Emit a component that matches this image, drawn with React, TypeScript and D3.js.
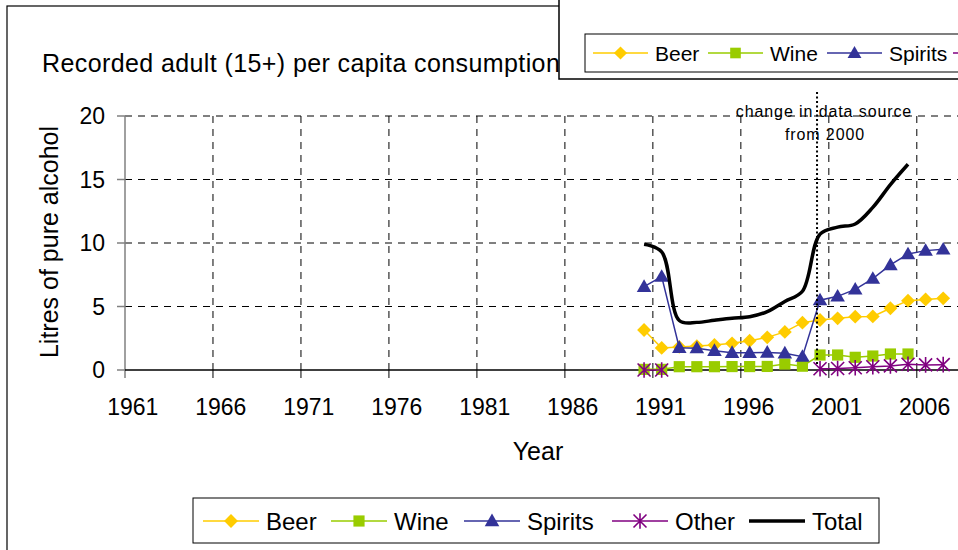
import React from "react";
import * as d3 from "d3";

// category axis runs over every year, data only exists from 1990
const firstYear = 1961;
const lastYear = 2007;
const tickYears = [1961, 1966, 1971, 1976, 1981, 1986, 1991, 1996, 2001, 2006];
const yTicks = [0, 5, 10, 15, 20];

const dataYears = [1990, 1991, 1992, 1993, 1994, 1995, 1996, 1997, 1998, 1999, 2000, 2001, 2002, 2003, 2004, 2005, 2006, 2007];
const beer = [3.15, 1.74, 1.82, 1.88, 1.97, 2.1, 2.3, 2.57, 3.0, 3.73, 3.94, 4.07, 4.2, 4.22, 4.86, 5.46, 5.56, 5.64];
const wine = [0.05, 0.05, 0.26, 0.26, 0.26, 0.27, 0.27, 0.28, 0.47, 0.3, 1.18, 1.18, 1.0, 1.1, 1.26, 1.26, null, null];
const spirits = [6.56, 7.35, 1.75, 1.72, 1.52, 1.36, 1.36, 1.38, 1.32, 1.05, 5.5, 5.8, 6.35, 7.2, 8.27, 9.13, 9.4, 9.5];
const other = [0, 0, null, null, null, null, null, null, null, null, 0.1, 0.12, 0.18, 0.26, 0.32, 0.45, 0.4, 0.42];
const total = [9.9, 9.3, 3.9, 3.75, 3.92, 4.08, 4.2, 4.6, 5.4, 6.2, 10.7, 11.25, 11.5, 12.8, 14.6, 16.2, null, null];

const FONT = "'Liberation Sans', Arial, sans-serif";
const colors: Record<string, string> = {
  Beer: "#FFCC00",
  Wine: "#99CC00",
  Spirits: "#333399",
  Other: "#800080",
  Total: "#000000",
};

const W = 958;
const H = 550;
const plot = { left: 125, right: 952, top: 116, bottom: 370 };

const years = d3.range(firstYear, lastYear + 1);
const x = d3.scaleBand<number>().domain(years).range([plot.left, plot.right]).padding(0);
const cx = (yr: number) => (x(yr) as number) + x.bandwidth() / 2;
const y = d3.scaleLinear().domain([0, 20]).range([plot.bottom, plot.top]);

const asteriskPath = (r: number) =>
  `M${-r},${-r}L${r},${r}M${-r},${r}L${r},${-r}M0,${-r * 1.2}L0,${r * 1.2}`;

function Marker({ name, px, py, scale = 1 }: { name: string; px: number; py: number; scale?: number }) {
  const c = colors[name];
  if (name === "Beer") {
    const d = d3.symbol().type(d3.symbolSquare).size(96 * scale * scale)()!;
    return <path d={d} transform={`translate(${px},${py}) rotate(45)`} fill={c} />;
  }
  if (name === "Wine") {
    const d = d3.symbol().type(d3.symbolSquare).size(125 * scale * scale)()!;
    return <path d={d} transform={`translate(${px},${py})`} fill={c} />;
  }
  if (name === "Spirits") {
    const d = d3.symbol().type(d3.symbolTriangle).size(92 * scale * scale)()!;
    return <path d={d} transform={`translate(${px},${py + 1})`} fill={c} />;
  }
  if (name === "Other") {
    return (
      <path d={asteriskPath(6.5 * scale)} transform={`translate(${px},${py})`} stroke={c} strokeWidth={1.6} fill="none" />
    );
  }
  return null;
}

const seriesData: Record<string, (number | null)[]> = {
  Beer: beer,
  Wine: wine,
  Spirits: spirits,
  Other: other,
  Total: total,
};

function Legend({ x0, y0, items, fontSize, lineLen, markerScale }: {
  x0: number; y0: number; items: { name: string; dx: number; label?: boolean }[]; fontSize: number; lineLen: number; markerScale: number;
}) {
  return (
    <g>
      {items.map((it) => (
        <g key={it.name} transform={`translate(${x0 + it.dx},${y0})`}>
          <line x1={0} x2={lineLen} y1={0} y2={0} stroke={colors[it.name]} strokeWidth={it.name === "Total" ? 3.5 : 1.5} />
          <Marker name={it.name} px={lineLen / 2} py={0} scale={markerScale} />
          {it.label === false ? null : (
            <text x={lineLen + 7} y={0} dy="0.36em" fontSize={fontSize} fontFamily={FONT} fill="#000">
              {it.name}
            </text>
          )}
        </g>
      ))}
    </g>
  );
}

export default function App() {
  const lineGen = d3
    .line<number | null>()
    .defined((d) => d !== null)
    .x((_, i) => cx(dataYears[i]))
    .y((d) => y(d as number));

  const totalGen = d3
    .line<number | null>()
    .defined((d) => d !== null)
    .x((_, i) => cx(dataYears[i]))
    .y((d) => y(d as number))
    .curve(d3.curveCatmullRom.alpha(0.5));

  const gridYears = tickYears.slice(1);
  const dividerX = cx(2000) - 3;

  const bottomItems = [
    { name: "Beer", dx: 0 },
    { name: "Wine", dx: 128 },
    { name: "Spirits", dx: 261 },
    { name: "Other", dx: 409 },
    { name: "Total", dx: 546 },
  ];
  // the top copy runs off the edge; only the start of the "Other" line shows
  const topItems = [
    { name: "Beer", dx: 0 },
    { name: "Wine", dx: 115 },
    { name: "Spirits", dx: 234 },
    { name: "Other", dx: 360, label: false },
  ];

  return (
    <svg width={W} height={H} style={{ position: "absolute", left: 0, top: 0, background: "#fff" }}>
      <rect x={0} y={0} width={W} height={H} fill="#fff" />
      {/* chart border */}
      <rect x={7} y={6} width={W + 20} height={H + 20} fill="none" stroke="#000" strokeWidth={1.2} />

      <text x={42} y={72} fontSize={25} letterSpacing={0.4} fontFamily={FONT} fill="#000">
        Recorded adult (15+) per capita consumption
      </text>

      {/* gridlines */}
      {yTicks.slice(1).map((t) => (
        <line key={t} x1={plot.left} x2={W} y1={y(t)} y2={y(t)} stroke="#000" strokeWidth={1} strokeDasharray="7,6" />
      ))}
      {gridYears.map((yr) => (
        <line key={yr} x1={x(yr)} x2={x(yr)} y1={plot.top} y2={plot.bottom} stroke="#000" strokeWidth={1} strokeDasharray="7,6" />
      ))}

      {/* y axis */}
      <line x1={plot.left} x2={plot.left} y1={plot.top} y2={plot.bottom + 8} stroke="#808080" strokeWidth={1.5} />
      {yTicks.map((t) => (
        <g key={t}>
          <line x1={plot.left - 8} x2={plot.left} y1={y(t)} y2={y(t)} stroke="#808080" strokeWidth={1.5} />
          <text x={105} y={y(t)} dy="0.36em" textAnchor="end" fontSize={23} fontFamily={FONT} fill="#000">
            {t}
          </text>
        </g>
      ))}
      <text
        transform={`translate(58,${(plot.top + plot.bottom) / 2 - 1}) rotate(-90)`}
        textAnchor="middle"
        fontSize={25}
        fontFamily={FONT}
        fill="#000"
      >
        Litres of pure alcohol
      </text>

      {/* x axis */}
      <line x1={plot.left} x2={W} y1={plot.bottom} y2={plot.bottom} stroke="#000" strokeWidth={1.5} />
      {gridYears.map((yr) => (
        <line key={yr} x1={x(yr)} x2={x(yr)} y1={plot.bottom} y2={plot.bottom + 8} stroke="#000" strokeWidth={1} />
      ))}
      {tickYears.map((yr) => (
        <text key={yr} x={cx(yr) - 1} y={415} textAnchor="middle" fontSize={23} fontFamily={FONT} fill="#000">
          {yr}
        </text>
      ))}
      <text x={538} y={460} textAnchor="middle" fontSize={25} fontFamily={FONT} fill="#000">
        Year
      </text>

      {/* series */}
      {["Beer", "Wine", "Spirits", "Other"].map((name) => (
        <g key={name}>
          <path d={lineGen(seriesData[name]) || ""} fill="none" stroke={colors[name]} strokeWidth={1.5} />
          {seriesData[name].map((v, i) =>
            v === null ? null : <Marker key={i} name={name} px={cx(dataYears[i])} py={y(v)} />
          )}
        </g>
      ))}
      <path d={totalGen(total) || ""} fill="none" stroke="#000" strokeWidth={3.5} strokeLinejoin="round" />

      {/* data source change */}
      <line x1={dividerX} x2={dividerX} y1={92} y2={366} stroke="#000" strokeWidth={2} strokeDasharray="2,2.5" />
      <text x={824} y={117} textAnchor="middle" fontSize={16} letterSpacing={0.9} fontFamily={FONT} fill="#000">
        change in data source
      </text>
      <text x={825} y={140} textAnchor="middle" fontSize={16} letterSpacing={0.9} fontFamily={FONT} fill="#000">
        from 2000
      </text>

      {/* cut-off copy of the legend in the top right */}
      <rect x={559} y={-10} width={W} height={89} fill="#fff" stroke="#000" strokeWidth={1.5} />
      <rect x={585} y={34} width={W} height={38} fill="#fff" stroke="#000" strokeWidth={1} />
      <Legend x0={593} y0={53} items={topItems} fontSize={21} lineLen={55} markerScale={0.95} />

      {/* bottom legend */}
      <rect x={193} y={498} width={686} height={45} fill="#fff" stroke="#000" strokeWidth={1} />
      <Legend x0={203} y0={521} items={bottomItems} fontSize={24} lineLen={56} markerScale={1} />
    </svg>
  );
}
